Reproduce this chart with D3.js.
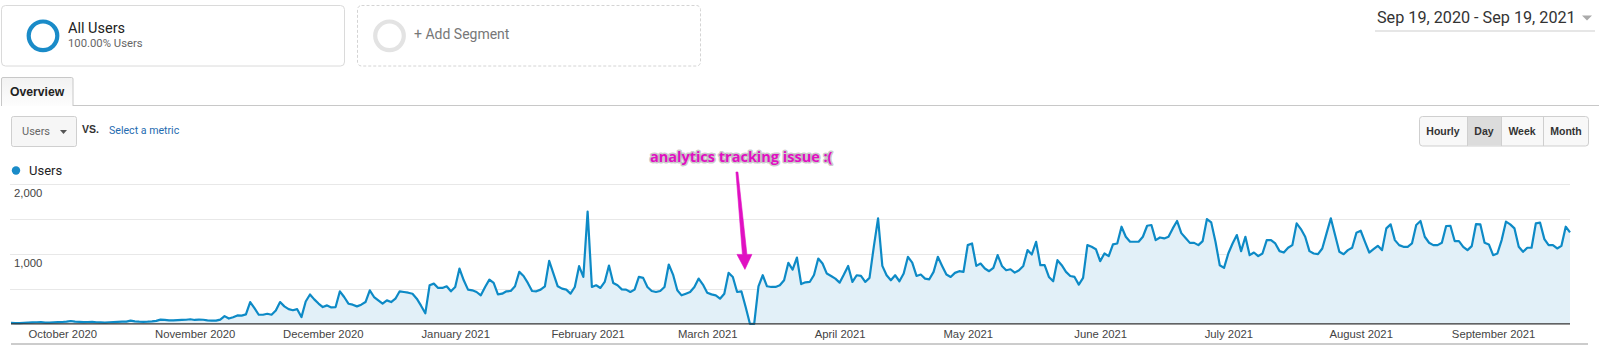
<!DOCTYPE html>
<html><head><meta charset="utf-8">
<script src="https://cdn.jsdelivr.net/npm/d3@7"></script>
<style>
html,body{margin:0;padding:0;background:#fff;overflow:hidden}
svg{display:block}
</style></head><body>
<svg id="c" width="1599" height="345"></svg>
<script>
// ---- data ----
const startDate = [2020, 8, 19]; // Sep 19, 2020 (UTC)
const endDate = [2021, 8, 19];   // Sep 19, 2021
const users = [
12,10,11,14,18,20,22,
25,18,16,20,24,26,30,
40,30,28,25,26,28,22,
20,18,22,25,28,30,32,
45,35,30,28,30,35,42,
60,55,50,48,52,55,58,
65,55,60,58,50,45,45,
60,110,75,95,120,118,135,
312,225,130,130,144,130,190,
312,250,210,195,210,96,320,
420,350,290,240,264,235,240,
466,384,288,274,250,274,312,
480,384,336,288,336,312,360,
466,456,446,430,360,260,150,
552,576,514,514,538,466,528,
792,624,490,480,456,408,528,
634,586,422,432,466,470,538,
744,686,586,470,466,490,538,
902,720,538,504,490,432,528,
826,672,1608,528,552,514,600,
835,586,552,494,490,456,490,
672,658,528,470,456,470,528,
850,706,480,408,432,456,528,
648,562,446,422,408,360,432,
730,672,456,466,240,0,0,
538,696,538,528,528,552,624,
874,778,950,570,595,600,700,
936,864,720,686,648,590,706,
830,600,696,686,600,658,1104,
1512,830,696,624,696,610,720,
960,878,686,706,648,638,744,
960,830,706,672,730,754,744,
1128,1152,830,864,792,754,802,
984,830,768,782,734,768,830,
1056,994,1176,840,840,672,610,
912,840,744,686,672,562,658,
1128,1104,1070,898,1008,970,1138,
1152,1392,1248,1176,1176,1176,1248,
1406,1416,1200,1238,1224,1248,1368,
1474,1300,1230,1160,1160,1128,1186,
1502,1454,1176,840,802,1008,1152,
1272,1042,1248,984,1022,970,1008,
1200,1200,1152,1042,1022,1090,1128,
1440,1358,1248,1042,1008,998,1080,
1296,1512,1272,1032,998,1056,1090,
1306,1334,1176,1022,1070,1118,1056,
1368,1426,1200,1128,1104,1104,1152,
1416,1474,1248,1162,1128,1128,1162,
1402,1406,1186,1186,1104,1056,1114,
1430,1426,1162,1138,984,1008,1200,
1464,1426,1368,1104,1032,1090,1090,
1440,1450,1214,1128,1128,1080,1118,
1392,1310
];
const monthTicks = ["2020-10-01","2020-11-01","2020-12-01","2021-01-01","2021-02-01","2021-03-01","2021-04-01","2021-05-01","2021-06-01","2021-07-01","2021-08-01","2021-09-01"];
const monthLabels = ["October 2020","November 2020","December 2020","January 2021","February 2021","March 2021","April 2021","May 2021","June 2021","July 2021","August 2021","September 2021"];
const gridValues = [500, 1000, 1500, 2000];
const yTickValues = [1000, 2000];
const yTickLabels = ["1,000", "2,000"];
const metricName = "Users";
const dateRangeLabel = "Sep 19, 2020 - Sep 19, 2021";
const annotationText = "analytics tracking issue :(";
const annotationIndex = 173; // day of the tracking gap
const granularity = ["Hourly", "Day", "Week", "Month"];

// ---- setup ----
const svg = d3.select("#c");
const W = 1599, H = 345;
const ROBOTO = "Roboto, 'Noto Sans', sans-serif";
const ARIAL = "Arial, 'Liberation Sans', sans-serif";

const dates = users.map((v, i) => new Date(Date.UTC(startDate[0], startDate[1], startDate[2] + i)));
const data = users.map((v, i) => ({date: dates[i], value: v}));

const x = d3.scaleUtc()
  .domain([new Date(Date.UTC(...startDate)), new Date(Date.UTC(...endDate))])
  .range([11, 1570]);
const y = d3.scaleLinear().domain([0, 2000]).range([323.8, 184.3]);

// ---- header: segments ----
const seg1 = svg.append("g");
seg1.append("rect").attr("x", 1.5).attr("y", 5.5).attr("width", 343).attr("height", 60.5)
  .attr("rx", 4).attr("fill", "#fff").attr("stroke", "#dadada");
seg1.append("circle").attr("cx", 43).attr("cy", 35.8).attr("r", 14.3)
  .attr("fill", "none").attr("stroke", "#1a8bc8").attr("stroke-width", 4.2);
seg1.append("text").attr("x", 68).attr("y", 33).attr("font-family", ROBOTO)
  .attr("font-size", 14.5).attr("fill", "#222").text("All Users");
seg1.append("text").attr("x", 68).attr("y", 47).attr("font-family", ROBOTO)
  .attr("font-size", 11.3).attr("fill", "#666").text("100.00% Users");

const seg2 = svg.append("g");
seg2.append("rect").attr("x", 357.5).attr("y", 5.5).attr("width", 343).attr("height", 60.5)
  .attr("rx", 4).attr("fill", "#fff").attr("stroke", "#d4d4d4").attr("stroke-dasharray", "3,2");
seg2.append("circle").attr("cx", 389.5).attr("cy", 35.8).attr("r", 14.3)
  .attr("fill", "none").attr("stroke", "#e3e3e3").attr("stroke-width", 4.2);
seg2.append("text").attr("x", 414).attr("y", 38.5).attr("font-family", ROBOTO)
  .attr("font-size", 14).attr("fill", "#777").text("+ Add Segment");

// date range
svg.append("text").attr("x", 1377).attr("y", 23).attr("font-family", ROBOTO)
  .attr("font-size", 16.2).attr("fill", "#333").text(dateRangeLabel);
svg.append("path").attr("d", "M1582,15.5 L1592,15.5 L1587,20.5 Z").attr("fill", "#aaa");
svg.append("line").attr("x1", 1375).attr("x2", 1595).attr("y1", 31).attr("y2", 31)
  .attr("stroke", "#e6e6e6").attr("stroke-width", 2);

// tab
svg.append("line").attr("x1", 73).attr("x2", W).attr("y1", 105.5).attr("y2", 105.5)
  .attr("stroke", "#c8c8c8");
const tabGrad = svg.append("defs").append("linearGradient").attr("id", "tabg")
  .attr("x1", 0).attr("x2", 0).attr("y1", 0).attr("y2", 1);
tabGrad.append("stop").attr("offset", "0%").attr("stop-color", "#f2f2f2");
tabGrad.append("stop").attr("offset", "100%").attr("stop-color", "#fdfdfd");
svg.append("path").attr("d", "M1.5,106 L1.5,79 Q1.5,77.5 3,77.5 L71.5,77.5 Q73,77.5 73,79 L73,106")
  .attr("fill", "url(#tabg)").attr("stroke", "#c8c8c8");
svg.append("text").attr("x", 10).attr("y", 96).attr("font-family", ARIAL)
  .attr("font-weight", "bold").attr("font-size", 12.2).attr("fill", "#222").text("Overview");

// metric dropdown
svg.append("rect").attr("x", 11.5).attr("y", 116.5).attr("width", 65).attr("height", 30)
  .attr("rx", 2).attr("fill", "#f6f6f6").attr("stroke", "#cfcfcf");
svg.append("text").attr("x", 22).attr("y", 135).attr("font-family", ROBOTO)
  .attr("font-size", 11).attr("fill", "#666").text(metricName);
svg.append("path").attr("d", "M60,130 L67,130 L63.5,134 Z").attr("fill", "#555");
svg.append("text").attr("x", 82).attr("y", 133).attr("font-family", ARIAL)
  .attr("font-weight", "bold").attr("font-size", 10.5).attr("fill", "#333").text("VS.");
svg.append("text").attr("x", 109).attr("y", 133.5).attr("font-family", ROBOTO)
  .attr("font-size", 10.6).attr("fill", "#1f6bb0").text("Select a metric");

// granularity buttons
const btnEdges = [1419, 1467, 1501, 1543, 1589];
const bg = svg.append("g");
bg.append("rect").attr("x", 1419.5).attr("y", 116.5).attr("width", 169).attr("height", 29.5)
  .attr("rx", 3).attr("fill", "#f8f8f8").attr("stroke", "#cfcfcf");
granularity.forEach((g, i) => {
  const x0 = btnEdges[i], x1 = btnEdges[i + 1];
  if (g === "Day") {
    bg.append("rect").attr("x", x0 + 0.5).attr("y", 117).attr("width", x1 - x0).attr("height", 28.5)
      .attr("fill", "#dcdcdc");
  }
  if (i > 0) bg.append("line").attr("x1", x0 + 0.5).attr("x2", x0 + 0.5).attr("y1", 117).attr("y2", 146)
    .attr("stroke", "#cfcfcf");
  bg.append("text").attr("x", (x0 + x1) / 2).attr("y", 135).attr("text-anchor", "middle")
    .attr("font-family", ARIAL).attr("font-weight", "bold").attr("font-size", 10.5)
    .attr("fill", "#333").text(g);
});

// legend
svg.append("circle").attr("cx", 16).attr("cy", 170.5).attr("r", 4.2).attr("fill", "#1a8bc8");
svg.append("text").attr("x", 29).attr("y", 175).attr("font-family", ROBOTO)
  .attr("font-size", 13).attr("fill", "#222").text(metricName);

// ---- chart ----
const chart = svg.append("g");
chart.selectAll("line.grid").data(gridValues).join("line").attr("class", "grid")
  .attr("x1", 10).attr("x2", 1570)
  .attr("y1", d => Math.round(y(d)) + 0.5).attr("y2", d => Math.round(y(d)) + 0.5)
  .attr("stroke", "#e8e8e8");

const area = d3.area().x(d => x(d.date)).y0(y(0)).y1(d => y(d.value));
const line = d3.line().x(d => x(d.date)).y(d => y(d.value));
chart.append("path").datum(data).attr("d", area).attr("fill", "#e2f0f8");
chart.append("path").datum(data).attr("d", line).attr("fill", "none")
  .attr("stroke", "#0d8ac6").attr("stroke-width", 2.2).attr("stroke-linejoin", "round");

// baseline
chart.append("line").attr("x1", 11).attr("x2", 1570).attr("y1", y(0)).attr("y2", y(0))
  .attr("stroke", "#333").attr("stroke-width", 1.3);

// y labels inside chart
chart.selectAll("text.ylab").data(yTickValues).join("text").attr("class", "ylab")
  .attr("x", 14).attr("y", d => y(d) + 13)
  .attr("font-family", ARIAL).attr("font-size", 11.3).attr("fill", "#444")
  .text((d, i) => yTickLabels[i]);

// x axis
const xAxis = d3.axisBottom(x)
  .tickValues(monthTicks.map(s => new Date(s + "T00:00:00Z")))
  .tickFormat((d, i) => monthLabels[i]).tickSize(0).tickPadding(0);
const xg = chart.append("g").attr("transform", `translate(0,${y(0)})`).call(xAxis);
xg.select(".domain").remove();
xg.selectAll("text").attr("dy", 0).attr("y", 14.5)
  .attr("font-family", ARIAL).attr("font-size", 11.3).attr("fill", "#444");

// bottom border
svg.append("line").attr("x1", 11).attr("x2", 1588).attr("y1", 344).attr("y2", 344)
  .attr("stroke", "#cccccc").attr("stroke-width", 2);

// ---- annotation ----
const pink = "#e010c2";
const tipX = x(dates[annotationIndex]) - 5;
const tipY = y(780);
const topX = tipX - 8, topY = 172;
const ann = svg.append("g");
ann.append("path")
  .attr("d", `M${topX - 1},${topY} L${topX + 1},${topY} L${tipX + 2},${tipY - 15} L${tipX + 7},${tipY - 15} L${tipX},${tipY} L${tipX - 8},${tipY - 15} L${tipX - 2.5},${tipY - 15} Z`)
  .attr("fill", pink).attr("stroke", pink).attr("stroke-width", 0.6).attr("stroke-linejoin", "round");
ann.append("text").attr("x", tipX - 95).attr("y", 162)
  .attr("font-family", "'Open Sans', sans-serif").attr("font-weight", "bold").attr("font-size", 14.5)
  .attr("fill", pink).attr("stroke", "rgba(160,160,160,0.55)").attr("stroke-width", 3)
  .attr("paint-order", "stroke").attr("stroke-linejoin", "round")
  .text(annotationText);
</script>
</body></html>
